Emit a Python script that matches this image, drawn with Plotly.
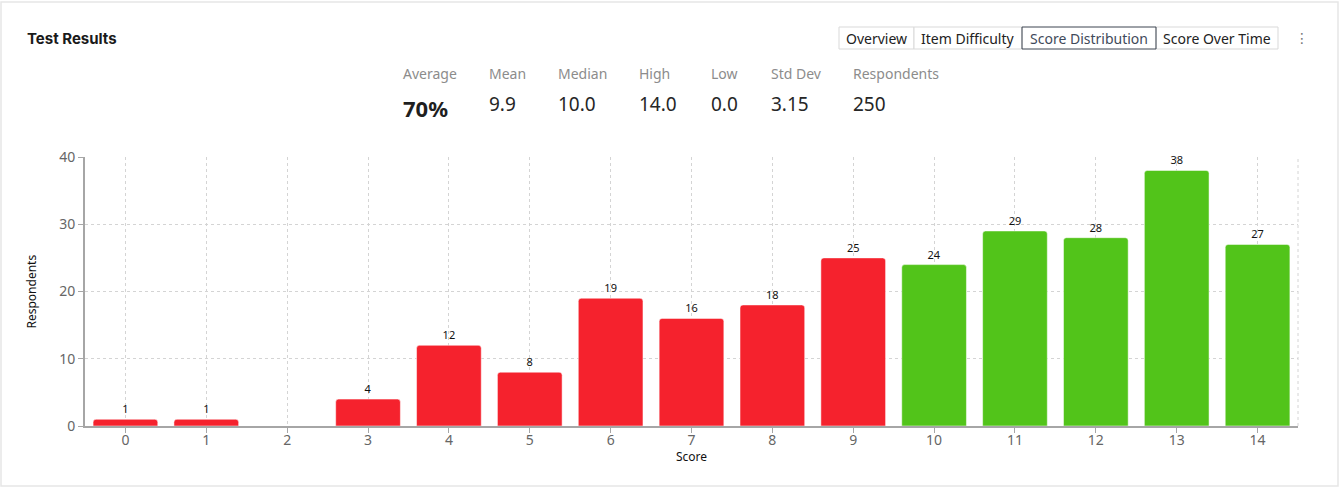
import plotly.graph_objects as go

scores = list(range(15))
respondents = [1, 1, 0, 4, 12, 8, 19, 16, 18, 25, 24, 29, 28, 38, 27]
pass_threshold = 10
stat_labels = ["Average", "Mean", "Median", "High", "Low", "Std Dev", "Respondents"]
stat_values = ["70%", "9.9", "10.0", "14.0", "0.0", "3.15", "250"]
tabs = ["Overview", "Item Difficulty", "Score Distribution", "Score Over Time"]
selected_tab = "Score Distribution"

W, H = 1340, 488
ML, MR, MT, MB = 85, 42, 157, 62
PW, PH = W - ML - MR, H - MT - MB

def px(x):
    return (x - ML) / PW

def py(y):
    return (H - MB - y) / PH

RED = "#f5222d"
GREEN = "#52c41a"
colors = [GREEN if s >= pass_threshold else RED for s in scores]
FONT = "Noto Sans"

fig = go.Figure(go.Bar(
    x=scores, y=respondents, marker=dict(color=colors, line=dict(width=1, color="rgba(255,255,255,0.5)")),
    text=[str(v) if v > 0 else "" for v in respondents], textposition="outside",
    textfont=dict(size=11, color="#111", family=FONT), cliponaxis=False,
))

shapes = []
annotations = []
# card border
shapes.append(dict(type="rect", xref="paper", yref="paper", x0=px(1), x1=px(1338), y0=py(486), y1=py(2),
                   line=dict(color="#e6e6e6", width=1.5), fillcolor="rgba(0,0,0,0)", layer="below"))
# right dashed edge
shapes.append(dict(type="line", xref="paper", yref="paper", x0=1, x1=1, y0=0, y1=1,
                   line=dict(color="#d4d4d4", width=1, dash="3px,3px")))

annotations.append(dict(text="<b>Test Results</b>", xref="paper", yref="paper", x=px(25), y=py(38),
                        xanchor="left", yanchor="middle", showarrow=False,
                        font=dict(family="Inter", size=15, color="#1a1a1a")))

stat_x = [401, 487, 556, 637, 709, 769, 851]
for i, (lab, val) in enumerate(zip(stat_labels, stat_values)):
    annotations.append(dict(text=lab, xref="paper", yref="paper", x=px(stat_x[i]), y=py(73),
                            xanchor="left", yanchor="middle", showarrow=False,
                            font=dict(family=FONT, size=14, color="#8c8c8c")))
    if i == 0:
        annotations.append(dict(text="<b>" + val + "</b>", xref="paper", yref="paper", x=px(stat_x[i]), y=py(108),
                                xanchor="left", yanchor="middle", showarrow=False,
                                font=dict(family=FONT, size=22, color="#1f1f1f")))
    else:
        annotations.append(dict(text=val, xref="paper", yref="paper", x=px(stat_x[i]), y=py(104),
                                xanchor="left", yanchor="middle", showarrow=False,
                                font=dict(family=FONT, size=19, color="#262626")))

tab_edges = [839, 914, 1022, 1156, 1278]
for i, t in enumerate(tabs):
    x0, x1 = tab_edges[i], tab_edges[i + 1]
    sel = t == selected_tab
    if not sel:
        shapes.append(dict(type="rect", xref="paper", yref="paper", x0=px(x0), x1=px(x1), y0=py(49), y1=py(27),
                           line=dict(color="#d9d9d9", width=1), fillcolor="white"))
    annotations.append(dict(text=t, xref="paper", yref="paper", x=px((x0 + x1) / 2), y=py(38),
                            xanchor="center", yanchor="middle", showarrow=False,
                            font=dict(family=FONT, size=14, color="#3f4a5a" if sel else "#222")))
i = tabs.index(selected_tab)
shapes.append(dict(type="rect", xref="paper", yref="paper", x0=px(tab_edges[i]), x1=px(tab_edges[i + 1]),
                   y0=py(49), y1=py(27), line=dict(color="#3d4551", width=1), fillcolor="rgba(0,0,0,0)"))
annotations.append(dict(text="⋮", xref="paper", yref="paper", x=px(1302), y=py(38),
                        xanchor="center", yanchor="middle", showarrow=False,
                        font=dict(family="DejaVu Sans", size=14, color="#777")))
annotations.append(dict(text="Respondents", xref="paper", yref="paper", x=px(31), y=0.5, textangle=-90,
                        xanchor="center", yanchor="middle", showarrow=False,
                        font=dict(family=FONT, size=12, color="#111")))
annotations.append(dict(text="Score", xref="paper", yref="paper", x=0.5, y=py(456),
                        xanchor="center", yanchor="middle", showarrow=False,
                        font=dict(family=FONT, size=12, color="#111")))

fig.update_layout(
    width=W, height=H, autosize=False,
    margin=dict(l=ML, r=MR, t=MT, b=MB),
    paper_bgcolor="white", plot_bgcolor="white",
    showlegend=False, bargap=0.2, barcornerradius=3,
    font=dict(family=FONT),
    shapes=shapes, annotations=annotations,
)
fig.update_xaxes(
    range=[-0.5, 14.5], tickmode="linear", tick0=0, dtick=1,
    showgrid=True, gridcolor="#d4d4d4", griddash="3px,3px", gridwidth=1,
    showline=True, linecolor="#a6a6a6", linewidth=2,
    ticks="outside", ticklen=5, tickcolor="#a6a6a6",
    tickfont=dict(size=14, color="#666", family=FONT), ticklabelstandoff=-5,
    zeroline=False, fixedrange=True,
)
fig.update_yaxes(
    range=[0, 40], tickmode="linear", tick0=0, dtick=10,
    showgrid=True, gridcolor="#d4d4d4", griddash="3px,3px", gridwidth=1,
    showline=True, linecolor="#a6a6a6", linewidth=2,
    ticks="outside", ticklen=5, tickcolor="#a6a6a6",
    tickfont=dict(size=14, color="#666", family=FONT),
    zeroline=False, fixedrange=True,
)

fig.write_html("out.html", config={"displayModeBar": False})
